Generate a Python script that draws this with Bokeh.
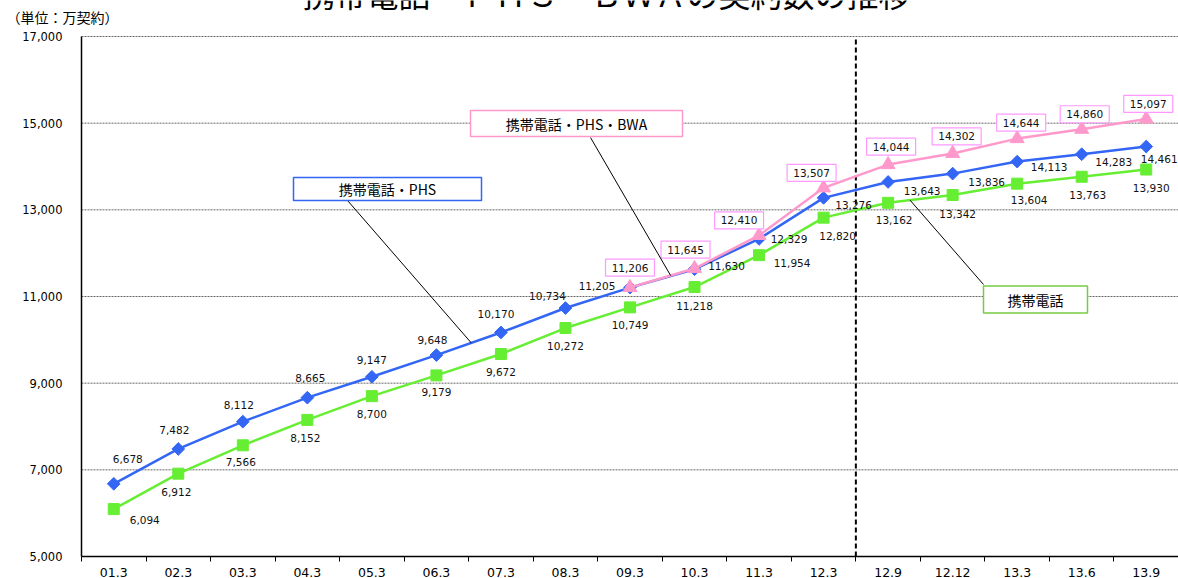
import numpy as np
from bokeh.plotting import figure
from bokeh.models import FixedTicker, NumeralTickFormatter, Range1d, LinearAxis
from bokeh.core.properties import value
from bokeh.embed import file_html
from bokeh.resources import INLINE

# ---------------- data ----------------
periods = ["01.3", "02.3", "03.3", "04.3", "05.3", "06.3", "07.3", "08.3", "09.3",
           "10.3", "11.3", "12.3", "12.9", "12.12", "13.3", "13.6", "13.9"]
mobile_phs = [6678, 7482, 8112, 8665, 9147, 9648, 10170, 10734, 11205,
              11630, 12329, 13276, 13643, 13836, 14113, 14283, 14461]
mobile = [6094, 6912, 7566, 8152, 8700, 9179, 9672, 10272, 10749,
          11218, 11954, 12820, 13162, 13342, 13604, 13763, 13930]
mobile_phs_bwa = [11206, 11645, 12410, 13507, 14044, 14302, 14644, 14860, 15097]
bwa_start = 8  # BWA series starts at 09.3

title_text = "携帯電話・ＰＨＳ・ＢＷＡの契約数の推移"
unit_text = "（単位：万契約）"
name_phs = "携帯電話・PHS"
name_bwa = "携帯電話・PHS・BWA"
name_mobile = "携帯電話"
y_ticks = [5000, 7000, 9000, 11000, 13000, 15000, 17000]

# ---------------- styles / layout ----------------
BLUE = "#3366F5"
GREEN = "#66EE33"
PINK = "#FF99CC"
BOXPINK = "#FF99FF"
NUMFONT_NAME = "DejaVu Sans"
NUMFONT = value(NUMFONT_NAME)
JPFONT = value("Noto Sans CJK JP")

W, H = 1178, 578
AX_LEFT = 81          # px from canvas left to the value axis
AX_TOP = 36           # px from canvas top to the top gridline
AX_BOTTOM = 556       # px from canvas top to the category axis
N = len(periods)
ppx = (W - AX_LEFT) / N
ppy = (AX_BOTTOM - AX_TOP) / (y_ticks[-1] - y_ticks[0])
x_lo = -0.5 - AX_LEFT / ppx
y_hi = y_ticks[-1] + AX_TOP / ppy
y_lo = y_ticks[0] - (H - AX_BOTTOM) / ppy

# label offsets in pixels (dx right, dy down)
off_phs = [(14, -25), (-4, -19), (-4, -17), (3, -20), (0, -17), (-4, -15), (-5, -18),
           (-18, -12), (-33, -2), (32, -3), (30, 0), (30, 7), (34, 9), (34, 8),
           (32, 5), (32, 8), (13, 12)]
off_mob = [(31, 11), (-2, 18), (-2, 17), (-2, 18), (0, 18), (0, 17), (0, 18), (0, 18),
           (0, 18), (0, 19), (33, 8), (14, 18), (6, 17), (5, 19), (12, 16), (6, 18), (5, 18)]
off_bwa = [(0, -20), (-9, -19), (-20, -15), (-12, -15), (3, -18), (4, -17), (4, -16),
           (3, -15), (2, -15)]

# reference-pixel helpers for annotation placement
def rx(px):
    return (px - AX_LEFT) / ppx - 0.5

def ry(py):
    return y_ticks[0] + (AX_BOTTOM - py) / ppy

p = figure(width=W, height=H, output_backend="svg", toolbar_location=None,
           x_range=Range1d(x_lo, N - 0.5), y_range=Range1d(y_lo, y_hi),
           x_axis_location=None, y_axis_location=None,
           min_border_left=0, min_border_right=0, min_border_top=0,
           min_border_bottom=0)
p.outline_line_color = None
p.background_fill_color = "white"
p.border_fill_color = "white"
p.grid.grid_line_color = None

# category axis, pinned at the 5,000 line
xax = LinearAxis(fixed_location=y_ticks[0], bounds=(-0.5, N - 0.5),
                 ticker=FixedTicker(ticks=list(range(N)),
                                    minor_ticks=[i - 0.5 for i in range(N + 1)]))
xax.major_label_overrides = {i: s for i, s in enumerate(periods)}
xax.major_tick_out = 0
xax.major_tick_in = 0
xax.minor_tick_out = 5
xax.minor_tick_in = 0
xax.minor_tick_line_color = "black"
xax.axis_line_color = "black"
xax.axis_line_width = 1.5
xax.major_label_text_font = NUMFONT_NAME
xax.major_label_text_font_size = "12.5px"
xax.major_label_text_color = "black"
xax.major_label_standoff = 6
p.add_layout(xax, "below")

# value axis, pinned at the left edge of the first category
yax = LinearAxis(fixed_location=-0.5, bounds=(y_ticks[0], y_ticks[-1]),
                 ticker=FixedTicker(ticks=y_ticks),
                 formatter=NumeralTickFormatter(format="0,0"))
yax.major_tick_out = 0
yax.major_tick_in = 0
yax.minor_tick_line_color = None
yax.axis_line_color = "black"
yax.axis_line_width = 1.5
yax.major_label_text_font = NUMFONT_NAME
yax.major_label_text_font_size = "11.5px"
yax.major_label_text_color = "black"
yax.major_label_standoff = 19
p.add_layout(yax, "left")

# horizontal gridlines over the plot area only
grid_y = y_ticks[1:]
p.segment(x0=[-0.5] * len(grid_y), x1=[N - 0.5] * len(grid_y), y0=grid_y, y1=grid_y,
          line_color="#666666", line_width=1, line_dash="2 1")

# forecast divider between 12.3 and 12.9
p.segment(x0=[11.5], x1=[11.5], y0=[y_ticks[0]], y1=[y_ticks[-1]],
          line_color="black", line_width=2, line_dash="5 3")

x_all = list(range(N))
x_bwa = list(range(bwa_start, N))

# series
p.line(x_all, mobile, line_color=GREEN, line_width=2.5)
p.scatter(x_all, mobile, marker="square", size=11, fill_color=GREEN, line_color=GREEN)
p.line(x_all, mobile_phs, line_color=BLUE, line_width=2.5)
p.scatter(x_all, mobile_phs, marker="square", angle=np.pi / 4, size=9,
          fill_color=BLUE, line_color=BLUE)
p.line(x_bwa, mobile_phs_bwa, line_color=PINK, line_width=2.5)
p.scatter(x_bwa, mobile_phs_bwa, marker="triangle", size=14, fill_color=PINK,
          line_color=PINK)

def fmt(v):
    return f"{v:,}"

def place(xs, ys, offs):
    lx = [x + dx / ppx for x, (dx, dy) in zip(xs, offs)]
    ly = [y - dy / ppy for y, (dx, dy) in zip(ys, offs)]
    return lx, ly

LBL = dict(text_font=NUMFONT, text_font_size="10.5px", text_align="center",
           text_baseline="middle", text_color="#111111")

# data labels
lx, ly = place(x_all, mobile_phs, off_phs)
p.text(lx, ly, text=[fmt(v) for v in mobile_phs], **LBL)
lx, ly = place(x_all, mobile, off_mob)
p.text(lx, ly, text=[fmt(v) for v in mobile], **LBL)
lx, ly = place(x_bwa, mobile_phs_bwa, off_bwa)
p.rect(lx, ly, width=49, height=17, width_units="screen", height_units="screen",
       fill_color="white", line_color=BOXPINK, line_width=1.2)
p.text(lx, ly, text=[fmt(v) for v in mobile_phs_bwa], **LBL)

# callouts: (text, box center px, box size px, leader start px, series, segment, t, border)
def anchor(xs, ys, seg, t):
    return xs[seg] + t * (xs[seg + 1] - xs[seg]), ys[seg] + t * (ys[seg + 1] - ys[seg])

callouts = [
    (name_phs, (387, 188.5), (188, 23), (347, 200), (x_all, mobile_phs), 5, 0.54, BLUE),
    (name_bwa, (576, 123), (212, 26), (590, 137), (x_bwa, mobile_phs_bwa), 0, 0.63, PINK),
    (name_mobile, (1035, 299), (104, 27), (983, 284), (x_all, mobile), 12, 0.34, "#77CC44"),
]
for txt, (cx, cy), (bw, bh), (sx, sy), (xs, ys), seg, t, col in callouts:
    ax, ay = anchor(xs, ys, seg, t)
    p.line([rx(sx), ax], [ry(sy), ay], line_color="black", line_width=1)
    p.rect([rx(cx)], [ry(cy)], width=bw, height=bh, width_units="screen",
           height_units="screen", fill_color="white", line_color=col, line_width=1.5)
    p.text([rx(cx)], [ry(cy)], text=[txt], text_font=JPFONT, text_font_size="14px",
           text_align="center", text_baseline="middle", text_color="black")

# title (cut off at the top edge as in the source) and unit
p.text([rx(606)], [ry(-8)], text=[title_text], text_font=JPFONT, text_font_size="32px",
       text_align="center", text_baseline="alphabetic", text_color="black")
p.text([rx(6)], [ry(16)], text=[unit_text], text_font=JPFONT, text_font_size="14px",
       text_align="left", text_baseline="middle", text_color="black")

open("out.html", "w").write(file_html(p, INLINE))
